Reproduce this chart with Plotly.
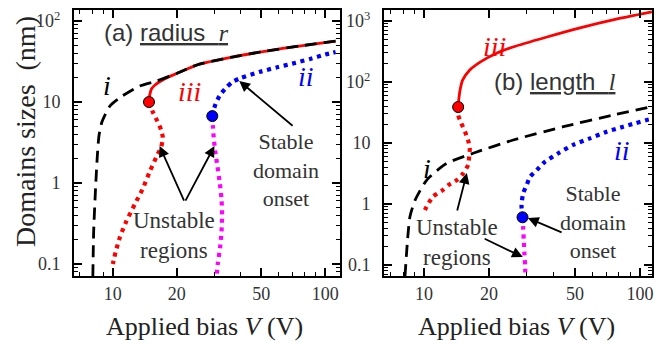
import numpy as np
import plotly.graph_objects as go

# ---------------- data ----------------
# Panel (a): radius r (nm) vs applied bias V (V)
a_i_V = [8.05, 8.12, 8.3, 8.45, 8.6, 8.88, 9.68, 11.1, 13.4, 16.1, 20.0, 22.5, 25.6, 36.5, 52.8, 75.5, 112]
a_i_r = [0.07, 0.25, 0.92, 2.15, 3.8, 5.66, 8.9, 11.9, 15.8, 18.2, 22.5, 25.8, 29.4, 35.9, 42.6, 49.1, 56.6]

a_iii_V = [14.8, 14.85, 15.0, 15.2, 15.8, 16.6, 18.0, 20.0, 22.5, 25.6, 36.5, 52.8, 75.5, 112]
a_iii_r = [10.0, 11.5, 13.0, 14.5, 16.2, 17.8, 20.0, 22.5, 25.8, 29.4, 35.9, 42.6, 49.1, 56.6]

a_iii_u_V = [14.8, 15.4, 16.2, 16.9, 17.2, 16.9, 16.1, 14.9, 13.8, 12.7, 11.6, 10.8, 10.3, 10.0]
a_iii_u_r = [10.0, 7.6, 5.8, 4.5, 3.6, 2.8, 2.15, 1.37, 0.84, 0.55, 0.34, 0.215, 0.14, 0.1]

a_ii_V = [29.4, 29.7, 30.5, 31.8, 34.0, 36.6, 40.0, 49.0, 60.0, 70.0, 85.0, 100.0, 112]
a_ii_r = [6.7, 7.7, 9.5, 11.9, 14.8, 17.7, 19.8, 23.5, 27.0, 29.8, 34.0, 38.5, 41.4]

a_ii_u_V = [29.4, 29.6, 29.9, 30.4, 31.1, 31.9, 32.5, 32.7, 32.5, 32.0, 31.2, 30.8]
a_ii_u_r = [6.7, 5.0, 3.5, 2.4, 1.6, 1.0, 0.63, 0.4, 0.25, 0.16, 0.1, 0.07]

a_onset_V = [14.8, 29.4]
a_onset_r = [10.0, 6.7]

# Panel (b): length l (nm) vs applied bias V (V)
b_i_V = [8.17, 8.37, 8.61, 9.1, 10.3, 12.7, 16.9, 25.9, 44.2, 75.3, 113]
b_i_l = [0.066, 0.225, 0.62, 1.16, 2.47, 4.6, 6.8, 11.2, 18.5, 28.8, 39.4]

b_iii_V = [14.4, 14.5, 14.7, 15.1, 16.3, 18.2, 21.8, 25.8, 37.1, 52.8, 75.0, 113.6]
b_iii_l = [38.9, 52, 74, 107, 157, 212, 299, 374, 546, 770, 1040, 1406]

b_iii_u_V = [14.4, 14.4, 14.9, 15.5, 16.0, 16.3, 16.2, 16.0, 15.2, 14.2, 13.0, 12.1, 11.0, 10.1]
b_iii_u_l = [38.9, 28.8, 21.0, 15.3, 11.2, 8.2, 5.96, 4.35, 3.18, 2.47, 2.05, 1.65, 1.32, 0.8]

b_ii_V = [28.6, 28.3, 28.8, 29.9, 31.0, 33.3, 36.3, 41.9, 49.1, 58.7, 70.2, 83.8, 94.9, 107.5, 113.6]
b_ii_l = [0.606, 0.96, 1.5, 2.05, 2.8, 3.6, 4.9, 6.8, 9.3, 11.9, 15.3, 18.5, 21.0, 23.8, 24.8]

b_ii_u_V = [28.6, 28.8, 29.0, 29.2, 29.4, 29.5]
b_ii_u_l = [0.606, 0.4, 0.25, 0.15, 0.1, 0.066]

b_onset_V = [14.4, 28.6]
b_onset_l = [38.9, 0.606]

x_tickvals = [10, 20, 50, 100]
x_ticktext = ["10", "20", "50", "100"]
ya_tickvals = [0.1, 1, 10, 100]
ya_ticktext = ["0.1", "1", "10", "10<sup>2</sup>"]
yb_tickvals = [0.1, 1, 10, 100, 1000]
yb_ticktext = ["0.1", "1", "10", "10<sup>2</sup>", "10<sup>3</sup>"]

# ---------------- styles ----------------
RED, BLUE, MAG, BLK = "#ff0000", "#0000ff", "#ff00ff", "#000000"
SERIF = "Liberation Serif"
SANS = "Liberation Sans"
TXT = "#333333"
DOT = "4px,4.6px"
DASH = "12px,7px"
SM = 0.6

fig = go.Figure()

def add_panel(xa, ya, i_V, i_y, iii_V, iii_y, iiiu_V, iiiu_y, ii_V, ii_y, iiu_V, iiu_y, on_V, on_y):
    kw = dict(xaxis=xa, yaxis=ya, mode="lines", hoverinfo="skip", showlegend=False)
    fig.add_trace(go.Scatter(x=iiiu_V, y=iiiu_y, line=dict(color=RED, width=4.2, dash=DOT, shape="spline", smoothing=SM), **kw))
    fig.add_trace(go.Scatter(x=iiu_V, y=iiu_y, line=dict(color=MAG, width=4.2, dash=DOT, shape="spline", smoothing=SM), **kw))
    fig.add_trace(go.Scatter(x=ii_V, y=ii_y, line=dict(color=BLUE, width=4.2, dash=DOT, shape="spline", smoothing=SM), **kw))
    fig.add_trace(go.Scatter(x=iii_V, y=iii_y, line=dict(color=RED, width=2.8, shape="spline", smoothing=SM), **kw))
    fig.add_trace(go.Scatter(x=i_V, y=i_y, line=dict(color=BLK, width=2.8, dash=DASH, shape="spline", smoothing=SM), **kw))
    fig.add_trace(go.Scatter(x=on_V, y=on_y, xaxis=xa, yaxis=ya, mode="markers", hoverinfo="skip", showlegend=False,
                             marker=dict(size=11, color=[RED, BLUE], line=dict(color=BLK, width=1))))

add_panel("x", "y", a_i_V, a_i_r, a_iii_V, a_iii_r, a_iii_u_V, a_iii_u_r, a_ii_V, a_ii_r, a_ii_u_V, a_ii_u_r, a_onset_V, a_onset_r)
add_panel("x2", "y2", b_i_V, b_i_l, b_iii_V, b_iii_l, b_iii_u_V, b_iii_u_l, b_ii_V, b_ii_l, b_ii_u_V, b_ii_u_l, b_onset_V, b_onset_l)

W, H = 671, 344
def axis_common():
    return dict(type="log", showline=True, linecolor=BLK, linewidth=2, mirror="allticks",
                ticks="inside", ticklen=8, tickwidth=1.6, tickcolor=BLK,
                showgrid=False, zeroline=False,
                tickfont=dict(family=SERIF, size=18, color=TXT),
                minor=dict(ticks="inside", ticklen=4, tickwidth=1.2, tickcolor=BLK, dtick="D1", showgrid=False))

xa = axis_common(); xa.update(domain=[74/W, 340/W], range=[0.817, 2.07], tickvals=x_tickvals, ticktext=x_ticktext, anchor="y")
xb = axis_common(); xb.update(domain=[384/W, 652/W], range=[0.815, 2.056], tickvals=x_tickvals, ticktext=x_ticktext, anchor="y2")
ya = axis_common(); ya.update(domain=[1-276/H, 1-10/H], range=[-1.148, 2.136], tickvals=ya_tickvals, ticktext=ya_ticktext, anchor="x", ticklabelstandoff=8)
yb = axis_common(); yb.update(domain=[1-276/H, 1-10/H], range=[-1.18, 3.18], tickvals=yb_tickvals, ticktext=yb_ticktext, anchor="x2", ticklabelstandoff=8)

L = np.log10
ann = []
def text(xr, yr, V, s, t, color=TXT, size=22, family=SERIF, xanchor="center"):
    ann.append(dict(xref=xr, yref=yr, x=L(V), y=L(s), text=t, showarrow=False, xanchor=xanchor, yanchor="middle",
                    font=dict(family=family, size=size, color=color)))
def arrow(xr, yr, V0, s0, V1, s1):
    ann.append(dict(xref=xr, yref=yr, axref=xr, ayref=yr, x=L(V1), y=L(s1), ax=L(V0), ay=L(s0), text="",
                    showarrow=True, arrowhead=2, arrowsize=1.2, arrowwidth=1.8, arrowcolor=BLK, standoff=0, startstandoff=0))

ital = lambda s: "<i>" + s + "</i>"
# panel (a)
text("x", "y", 8.87, 73.1, "(a) <u>radius  <span style=\"font-family:Liberation Serif\"><i>r</i></span></u>", size=24, family=SANS, xanchor="left")
text("x", "y", 9.37, 15.8, ital("i"), color=BLK, size=28)
text("x", "y", 23.0, 13.3, ital("iii"), color=RED, size=28)
text("x", "y", 81.5, 20.4, ital("ii"), color=BLUE, size=28)
text("x", "y", 65.6, 1.45, "Stable<br>domain<br>onset", size=22)
text("x", "y", 19.5, 0.225, "Unstable<br>regions", size=23)
arrow("x", "y", 71.4, 4.91, 39.4, 18.2)
arrow("x", "y", 21.8, 0.582, 16.6, 2.86)
arrow("x", "y", 21.8, 0.582, 30.1, 2.86)
# panel (b)
text("x2", "y2", 20.7, 101, "(b) <u>length  <span style=\"font-family:Liberation Serif\"><i>l</i></span></u>", size=24, family=SANS, xanchor="left")
text("x2", "y2", 21.3, 375, ital("iii"), color=RED, size=28)
text("x2", "y2", 10.3, 3.89, ital("i"), color=BLK, size=28)
text("x2", "y2", 82.6, 7.67, ital("ii"), color=BLUE, size=28)
text("x2", "y2", 60.5, 0.507, "Stable<br>domain<br>onset", size=22)
text("x2", "y2", 14.2, 0.23, "Unstable<br>regions", size=23)
arrow("x2", "y2", 44.1, 0.335, 30.3, 0.589)
arrow("x2", "y2", 14.2, 0.74, 15.8, 3.22)
arrow("x2", "y2", 18.8, 0.277, 28.7, 0.135)

# axis titles
ann.append(dict(xref="paper", yref="paper", x=25/W, y=1-132/H, text="Domains sizes  (nm)", textangle=-90, showarrow=False,
                xanchor="center", yanchor="middle", font=dict(family=SERIF, size=28, color="#222222")))
for cx in (204, 516):
    ann.append(dict(xref="paper", yref="paper", x=cx/W, y=1-326/H, text="Applied bias <i>V</i> (V)", showarrow=False,
                    xanchor="center", yanchor="middle", font=dict(family=SERIF, size=26, color="#222222")))

fig.update_layout(width=W, height=H, margin=dict(l=0, r=0, t=0, b=0), paper_bgcolor="white", plot_bgcolor="white",
                  xaxis=xa, xaxis2=xb, yaxis=ya, yaxis2=yb, annotations=ann, showlegend=False)

fig.write_html("out.html")
